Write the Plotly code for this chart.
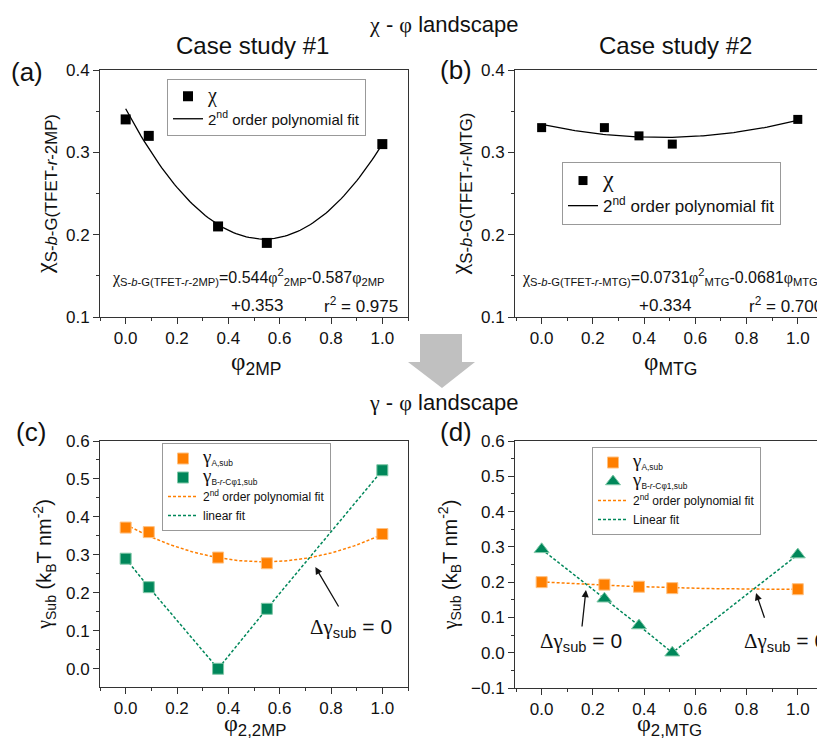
import numpy as np
import plotly.graph_objects as go

W, H = 817, 741
FONT = "Arial, Liberation Sans, sans-serif"
SERIF = "'Liberation Serif', 'Times New Roman', serif"


def g(ch):
    return f"<span style=\"font-family:{SERIF}\">{ch}</span>"


CHI, PHI, GAM, DEL = g("χ"), g("φ"), g("γ"), g("Δ")

# ---------------- data ----------------
phi_2mp = [0.0, 0.09, 0.36, 0.55, 1.0]
chi_2mp = [0.34, 0.32, 0.21, 0.19, 0.31]
fit_coef_2mp = [0.544, -0.587, 0.353]

phi_mtg = [0.0, 0.245, 0.38, 0.51, 1.0]
chi_mtg = [0.33, 0.33, 0.32, 0.31, 0.34]
fit_coef_mtg = [0.0731, -0.0681, 0.334]

gammaA_2mp = [0.372, 0.36, 0.293, 0.278, 0.355]
gammaB_2mp = [0.29, 0.215, 0.0, 0.158, 0.523]

gammaA_mtg = [0.2, 0.193, 0.187, 0.183, 0.18]
gammaB_mtg = [0.293, 0.153, 0.077, 0.0, 0.278]

ORANGE = "#FF7F00"
GREEN = "#00875A"

xs = np.linspace(0, 1, 101)


def px(x):
    return x / W


def py(y):
    return 1 - y / H


def big(ch, size):
    return f"<span style=\"font-size:{size}px;font-family:{SERIF}\">{ch}</span>"


fig = go.Figure()

# ---- (a) ----
fig.add_trace(go.Scatter(x=phi_2mp, y=chi_2mp, mode="markers", name=big("χ", 20),
                         marker=dict(symbol="square", size=10, color="black"),
                         xaxis="x", yaxis="y", legend="legend", legendrank=1))
fig.add_trace(go.Scatter(x=xs, y=np.polyval(fit_coef_2mp, xs), mode="lines",
                         name="2<sup>nd</sup> order polynomial fit",
                         line=dict(color="black", width=1.3),
                         xaxis="x", yaxis="y", legend="legend", legendrank=2))

# ---- (b) ----
fig.add_trace(go.Scatter(x=phi_mtg, y=chi_mtg, mode="markers", name=big("χ", 24),
                         marker=dict(symbol="square", size=9, color="black"),
                         xaxis="x2", yaxis="y2", legend="legend2", legendrank=1))
fig.add_trace(go.Scatter(x=xs, y=np.polyval(fit_coef_mtg, xs), mode="lines",
                         name="2<sup>nd</sup> order polynomial fit",
                         line=dict(color="black", width=1.3),
                         xaxis="x2", yaxis="y2", legend="legend2", legendrank=2))

# ---- (c) ----
cA = np.polyfit(phi_2mp, gammaA_2mp, 2)
fig.add_trace(go.Scatter(x=xs, y=np.polyval(cA, xs), mode="lines",
                         name="2<sup>nd</sup> order polynomial fit",
                         line=dict(color=ORANGE, width=1.5, dash="3px,2px"),
                         xaxis="x3", yaxis="y3", legend="legend3", legendrank=3))
fig.add_trace(go.Scatter(x=phi_2mp, y=gammaB_2mp, mode="lines", name="linear fit",
                         line=dict(color=GREEN, width=1.5, dash="3px,2px"),
                         xaxis="x3", yaxis="y3", legend="legend3", legendrank=4))
fig.add_trace(go.Scatter(x=phi_2mp, y=gammaA_2mp, mode="markers",
                         name=big("γ", 19) + "<sub>A,sub</sub>",
                         marker=dict(symbol="square", size=11, color=ORANGE, line=dict(color="#FFC080", width=1)),
                         xaxis="x3", yaxis="y3", legend="legend3", legendrank=1))
fig.add_trace(go.Scatter(x=phi_2mp, y=gammaB_2mp, mode="markers",
                         name=big("γ", 19) + "<sub>B-<i>r</i>-Cφ1,sub</sub>",
                         marker=dict(symbol="square", size=11, color=GREEN, line=dict(color="#80C8A8", width=1)),
                         xaxis="x3", yaxis="y3", legend="legend3", legendrank=2))

# ---- (d) ----
cA2 = np.polyfit(phi_mtg, gammaA_mtg, 2)
fig.add_trace(go.Scatter(x=xs, y=np.polyval(cA2, xs), mode="lines",
                         name="2<sup>nd</sup> order polynomial fit",
                         line=dict(color=ORANGE, width=1.5, dash="3px,2px"),
                         xaxis="x4", yaxis="y4", legend="legend4", legendrank=3))
fig.add_trace(go.Scatter(x=phi_mtg, y=gammaB_mtg, mode="lines", name="Linear fit",
                         line=dict(color=GREEN, width=1.5, dash="3px,2px"),
                         xaxis="x4", yaxis="y4", legend="legend4", legendrank=4))
fig.add_trace(go.Scatter(x=phi_mtg, y=gammaA_mtg, mode="markers",
                         name=big("γ", 19) + "<sub>A,sub</sub>",
                         marker=dict(symbol="square", size=11, color=ORANGE, line=dict(color="#FFC080", width=1)),
                         xaxis="x4", yaxis="y4", legend="legend4", legendrank=1))
fig.add_trace(go.Scatter(x=phi_mtg, y=gammaB_mtg, mode="markers",
                         name=big("γ", 19) + "<sub>B-<i>r</i>-Cφ1,sub</sub>",
                         marker=dict(symbol="triangle-up", size=13, color=GREEN, line=dict(color="#80C8A8", width=1)),
                         xaxis="x4", yaxis="y4", legend="legend4", legendrank=2))


def axis(domain, rng, dtick, mdtick, anchor, title, title_size, standoff, mirror=True, **kw):
    d = dict(domain=domain, range=rng, anchor=anchor, showline=True, linecolor="#333", linewidth=1,
             mirror=mirror, ticks="outside", ticklen=6, tickwidth=1, tickcolor="#333",
             tick0=0, dtick=dtick, tickformat=".1f",
             showgrid=False, zeroline=False, automargin=False,
             tickfont=dict(family=FONT, size=17, color="#111"),
             minor=dict(ticks="outside", ticklen=3, tickwidth=1, tickcolor="#333", showgrid=False,
                        tick0=0, dtick=mdtick),
             title=dict(text=title, font=dict(family=FONT, size=title_size, color="#111"), standoff=standoff))
    d.update(kw)
    return d


dom_left = [px(100), px(408)]
dom_right = [px(515), 1.0]
dom_top = [py(317), py(70)]
dom_bot_c = [py(687), py(441)]
dom_bot_d = [py(688), py(441)]

legend_common = dict(xanchor="left", yanchor="top", bordercolor="#999", borderwidth=1,
                     bgcolor="rgba(255,255,255,0)", itemwidth=30, tracegroupgap=0)

fig.update_layout(
    width=W, height=H,
    margin=dict(l=0, r=0, t=0, b=0),
    paper_bgcolor="white", plot_bgcolor="white",
    font=dict(family=FONT, color="#111"),
    showlegend=True,
    xaxis=axis(dom_left, [-0.1, 1.1], 0.2, 0.1, "y", "", 24, 4),
    yaxis=axis(dom_top, [0.1, 0.4], 0.1, 0.05, "x",
               f"{CHI}<sub>S-<i>b</i>-G(TFET-<i>r</i>-2MP)</sub>", 24, 6),
    xaxis2=axis(dom_right, [-0.104, 1.075], 0.2, 0.1, "y2", "", 24, 4),
    yaxis2=axis(dom_top, [0.1, 0.4], 0.1, 0.05, "x2",
                f"{CHI}<sub>S-<i>b</i>-G(TFET-<i>r</i>-MTG)</sub>", 24, 6, mirror=False),
    xaxis3=axis(dom_left, [-0.1, 1.1], 0.2, 0.1, "y3", "", 24, 4),
    yaxis3=axis(dom_bot_c, [-0.048, 0.6], 0.1, 0.05, "x3",
                f"{GAM}<sub>Sub</sub> (k<sub>B</sub>T nm<sup>-2</sup>)", 20, 8),
    xaxis4=axis(dom_right, [-0.104, 1.075], 0.2, 0.1, "y4", "", 24, 4),
    yaxis4=axis(dom_bot_d, [-0.1, 0.6], 0.1, 0.05, "x4",
                f"{GAM}<sub>Sub</sub> (k<sub>B</sub>T nm<sup>-2</sup>)", 20, 8, mirror=False),
    legend=dict(x=px(167), y=py(79), font=dict(family=FONT, size=15), **legend_common),
    legend2=dict(x=px(562), y=py(162), font=dict(family=FONT, size=17), **legend_common),
    legend3=dict(x=px(162), y=py(443), font=dict(family=FONT, size=12), **legend_common),
    legend4=dict(x=px(592), y=py(447), font=dict(family=FONT, size=12), **legend_common),
)

ann = []


def text(x, y, t, size, xanchor="center"):
    ann.append(dict(x=px(x), y=py(y), xref="paper", yref="paper", text=t, showarrow=False,
                    xanchor=xanchor, yanchor="middle", font=dict(family=FONT, size=size, color="#111")))


text(443, 25, f"{CHI} - {PHI} landscape", 22)
text(443, 402, f"{GAM} - {PHI} landscape", 22)
text(252, 45, "Case study #1", 24)
text(675, 45, "Case study #2", 24)
text(27, 72, "(a)", 26)
text(456, 70, "(b)", 26)
text(31, 432, "(c)", 26)
text(456, 432, "(d)", 26)

# x-axis titles
text(256, 363, f"{PHI}<sub>2MP</sub>", 25)
text(670, 363, f"{PHI}<sub>MTG</sub>", 25)
text(255, 725, f"{PHI}<sub>2,2MP</sub>", 24)
text(669, 725, f"{PHI}<sub>2,MTG</sub>", 24)

text(110, 277, f"{CHI}<sub>S-<i>b</i>-G(TFET-<i>r</i>-2MP)</sub>=0.544{PHI}<sup>2</sup><sub>2MP</sub>-0.587{PHI}<sub>2MP</sub>", 16, "left")
text(257, 305, "+0.353", 17)
text(400, 305, "r<sup>2</sup> = 0.975", 17, "right")
text(520, 277, f"{CHI}<sub>S-<i>b</i>-G(TFET-<i>r</i>-MTG)</sub>=0.0731{PHI}<sup>2</sup><sub>MTG</sub>-0.0681{PHI}<sub>MTG</sub>", 16, "left")
text(665, 305, "+0.334", 17)
text(747, 305, "r<sup>2</sup> = 0.700", 17, "left")


# arrows for delta gamma = 0
def arrow(xr, yr, x, y, ax_, ay_):
    ann.append(dict(x=x, y=y, ax=ax_, ay=ay_, xref=xr, yref=yr, axref=xr, ayref=yr, text="",
                    showarrow=True, arrowhead=2, arrowsize=1.1, arrowwidth=1.3, arrowcolor="#111"))


arrow("x3", "y3", 0.739, 0.268, 0.833, 0.160)
arrow("x4", "y4", 0.173, 0.178, 0.157, 0.070)
arrow("x4", "y4", 0.837, 0.169, 0.872, 0.095)
text(351, 628, f"{DEL}{GAM}<sub>sub</sub> = 0", 21)
text(581, 642, f"{DEL}{GAM}<sub>sub</sub> = 0", 21)
text(742, 642, f"{DEL}{GAM}<sub>sub</sub> = 0", 21, "left")

fig.update_layout(annotations=ann)

# big grey arrow between the two rows
pts = [(420, 334), (462, 334), (462, 362), (475, 362), (442, 388), (408, 362), (420, 362)]
path = "M " + " L ".join(f"{px(a):.5f},{py(b):.5f}" for a, b in pts) + " Z"
fig.add_shape(type="path", path=path, xref="paper", yref="paper",
              fillcolor="#C0C0C0", line=dict(width=0))

fig.write_html("out.html", config={"displayModeBar": False},
               post_script="document.body.style.margin='0px';")
